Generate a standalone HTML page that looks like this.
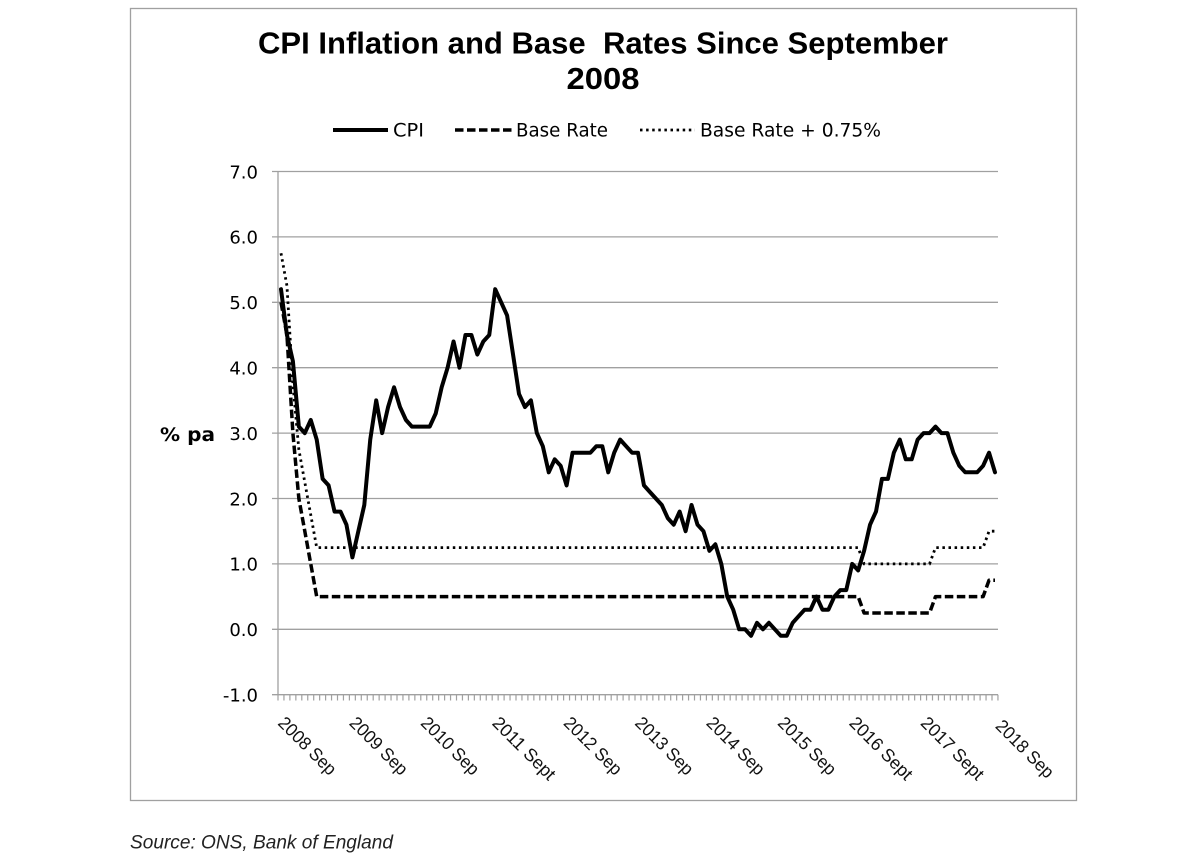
<!DOCTYPE html>
<html>
<head>
<meta charset="utf-8">
<style>
  html,body{margin:0;padding:0;background:#fff;}
  svg{display:block;}
  text{white-space:pre;}
</style>
</head>
<body>
<svg width="1200" height="854" viewBox="0 0 1200 854" xmlns="http://www.w3.org/2000/svg">
  <rect x="0" y="0" width="1200" height="854" fill="#fff"/>
  <!-- outer frame -->
  <rect x="130.5" y="8.5" width="946" height="792" fill="none" stroke="#a0a0a0" stroke-width="1.3"/>

  <!-- title -->
  <text x="603" y="53.5" text-anchor="middle" font-family="'Liberation Sans', 'DejaVu Sans', sans-serif" font-weight="bold" font-size="30.5" textLength="690" lengthAdjust="spacingAndGlyphs" fill="#000">CPI Inflation and Base  Rates Since September</text>
  <text x="603" y="89" text-anchor="middle" font-family="'Liberation Sans', 'DejaVu Sans', sans-serif" font-weight="bold" font-size="30.5" textLength="73" lengthAdjust="spacingAndGlyphs" fill="#000">2008</text>

  <!-- legend -->
  <line x1="333" y1="130" x2="388" y2="130" stroke="#000" stroke-width="4"/>
  <text x="393" y="136.5" font-family="'DejaVu Sans', 'Liberation Sans', sans-serif" font-size="19" textLength="31" lengthAdjust="spacingAndGlyphs" fill="#000">CPI</text>
  <line x1="455" y1="130" x2="512" y2="130" stroke="#000" stroke-width="3.5" stroke-dasharray="8.5,3.5"/>
  <text x="516" y="136.5" font-family="'DejaVu Sans', 'Liberation Sans', sans-serif" font-size="19" textLength="92" lengthAdjust="spacingAndGlyphs" fill="#000">Base Rate</text>
  <line x1="640" y1="130" x2="695" y2="130" stroke="#000" stroke-width="2.8" stroke-dasharray="2.5,3.6"/>
  <text x="700" y="136.5" font-family="'DejaVu Sans', 'Liberation Sans', sans-serif" font-size="19" textLength="181" lengthAdjust="spacingAndGlyphs" fill="#000">Base Rate + 0.75%</text>

  <!-- gridlines -->
  <g stroke="#a0a0a0" stroke-width="1.3" fill="none">
    <line x1="272" y1="171.5" x2="998" y2="171.5"/>
    <line x1="272" y1="236.9" x2="998" y2="236.9"/>
    <line x1="272" y1="302.3" x2="998" y2="302.3"/>
    <line x1="272" y1="367.7" x2="998" y2="367.7"/>
    <line x1="272" y1="433.1" x2="998" y2="433.1"/>
    <line x1="272" y1="498.5" x2="998" y2="498.5"/>
    <line x1="272" y1="563.9" x2="998" y2="563.9"/>
    <line x1="272" y1="629.3" x2="998" y2="629.3"/>
    <line x1="272" y1="694.7" x2="998" y2="694.7"/>
    <line x1="278" y1="171.5" x2="278" y2="694.7"/>
  </g>
  <!-- month tick marks -->
  <path d="M277.4,697.6 H999" stroke="#a0a0a0" stroke-width="5.8" stroke-dasharray="1.2,4.75" fill="none"/>

  <!-- y labels -->
  <g font-family="'DejaVu Sans', 'Liberation Sans', sans-serif" font-size="18" text-anchor="end" fill="#000">
    <text x="258" y="178.3">7.0</text>
    <text x="258" y="243.7">6.0</text>
    <text x="258" y="309.1">5.0</text>
    <text x="258" y="374.5">4.0</text>
    <text x="258" y="439.9">3.0</text>
    <text x="258" y="505.3">2.0</text>
    <text x="258" y="570.7">1.0</text>
    <text x="258" y="636.1">0.0</text>
    <text x="258" y="701.5">-1.0</text>
  </g>
  <text x="160" y="441" font-family="'DejaVu Sans', 'Liberation Sans', sans-serif" font-weight="bold" font-size="19" textLength="55" lengthAdjust="spacingAndGlyphs" fill="#000">% pa</text>

  <!-- x labels -->
  <g font-family="'Liberation Sans', sans-serif" font-size="18" fill="#111">
    <text transform="translate(277,724) rotate(45)" textLength="74" lengthAdjust="spacingAndGlyphs">2008 Sep</text>
    <text transform="translate(348.4,724) rotate(45)" textLength="74" lengthAdjust="spacingAndGlyphs">2009 Sep</text>
    <text transform="translate(419.8,724) rotate(45)" textLength="74" lengthAdjust="spacingAndGlyphs">2010 Sep</text>
    <text transform="translate(491.2,724) rotate(45)" textLength="81" lengthAdjust="spacingAndGlyphs">2011 Sept</text>
    <text transform="translate(562.6,724) rotate(45)" textLength="74" lengthAdjust="spacingAndGlyphs">2012 Sep</text>
    <text transform="translate(634,724) rotate(45)" textLength="74" lengthAdjust="spacingAndGlyphs">2013 Sep</text>
    <text transform="translate(705.4,724) rotate(45)" textLength="74" lengthAdjust="spacingAndGlyphs">2014 Sep</text>
    <text transform="translate(776.8,724) rotate(45)" textLength="74" lengthAdjust="spacingAndGlyphs">2015 Sep</text>
    <text transform="translate(848.2,724) rotate(45)" textLength="81" lengthAdjust="spacingAndGlyphs">2016 Sept</text>
    <text transform="translate(919.6,724) rotate(45)" textLength="81" lengthAdjust="spacingAndGlyphs">2017 Sept</text>
    <text transform="translate(994.5,727) rotate(45)" textLength="74" lengthAdjust="spacingAndGlyphs">2018 Sep</text>
  </g>

  <!-- Base rate (dashed) -->
  <path d="M281,302.3 L286.95,335.0 L292.9,433.1 L298.85,498.5 L304.8,531.2 L310.75,563.9 L316.7,596.6 L858.15,596.6 L864.1,613.0 L929.55,613.0 L935.5,596.6 L983.1,596.6 L989.05,580.2 L995,580.2"
        fill="none" stroke="#000" stroke-width="3.5" stroke-dasharray="8.5,3.5" stroke-linejoin="round"/>
  <!-- Base rate + 0.75 (dotted) -->
  <path d="M281,253.2 L286.95,285.9 L292.9,384.1 L298.85,449.5 L304.8,482.2 L310.75,514.9 L316.7,547.6 L858.15,547.6 L864.1,563.9 L929.55,563.9 L935.5,547.6 L983.1,547.6 L989.05,531.2 L995,531.2"
        fill="none" stroke="#000" stroke-width="2.8" stroke-dasharray="2.5,3.6"/>
  <!-- CPI -->
  <path d="M281,289.2 L286.95,335.0 L292.9,361.2 L298.85,426.6 L304.8,433.1 L310.75,420.0 L316.7,439.6 L322.65,478.9 L328.6,485.4 L334.55,511.6 L340.5,511.6 L346.45,524.7 L352.4,557.4 L358.35,531.2 L364.3,505.0 L370.25,439.6 L376.2,400.4 L382.15,433.1 L388.1,407.0 L394.05,387.3 L400,407.0 L405.95,420.0 L411.9,426.6 L417.85,426.6 L423.8,426.6 L429.75,426.6 L435.7,413.5 L441.65,387.3 L447.6,367.7 L453.55,341.5 L459.5,367.7 L465.45,335.0 L471.4,335.0 L477.35,354.6 L483.3,341.5 L489.25,335.0 L495.2,289.2 L501.15,302.3 L507.1,315.4 L513.05,354.6 L519,393.9 L524.95,407.0 L530.9,400.4 L536.85,433.1 L542.8,446.2 L548.75,472.3 L554.7,459.3 L560.65,465.8 L566.6,485.4 L572.55,452.7 L578.5,452.7 L584.45,452.7 L590.4,452.7 L596.35,446.2 L602.3,446.2 L608.25,472.3 L614.2,452.7 L620.15,439.6 L626.1,446.2 L632.05,452.7 L638,452.7 L643.95,485.4 L649.9,492.0 L655.85,498.5 L661.8,505.0 L667.75,518.1 L673.7,524.7 L679.65,511.6 L685.6,531.2 L691.55,505.0 L697.5,524.7 L703.45,531.2 L709.4,550.8 L715.35,544.3 L721.3,563.9 L727.25,596.6 L733.2,609.7 L739.15,629.3 L745.1,629.3 L751.05,635.8 L757,622.8 L762.95,629.3 L768.9,622.8 L774.85,629.3 L780.8,635.8 L786.75,635.8 L792.7,622.8 L798.65,616.2 L804.6,609.7 L810.55,609.7 L816.5,596.6 L822.45,609.7 L828.4,609.7 L834.35,596.6 L840.3,590.1 L846.25,590.1 L852.2,563.9 L858.15,570.4 L864.1,550.8 L870.05,524.7 L876,511.6 L881.95,478.9 L887.9,478.9 L893.85,452.7 L899.8,439.6 L905.75,459.3 L911.7,459.3 L917.65,439.6 L923.6,433.1 L929.55,433.1 L935.5,426.6 L941.45,433.1 L947.4,433.1 L953.35,452.7 L959.3,465.8 L965.25,472.3 L971.2,472.3 L977.15,472.3 L983.1,465.8 L989.05,452.7 L995,472.3"
        fill="none" stroke="#000" stroke-width="4" stroke-linejoin="round" stroke-linecap="round"/>

  <!-- source -->
  <text x="130" y="848.5" font-family="'Liberation Sans', sans-serif" font-style="italic" font-size="19" textLength="263" lengthAdjust="spacingAndGlyphs" fill="#222">Source: ONS, Bank of England</text>
</svg>
</body>
</html>
